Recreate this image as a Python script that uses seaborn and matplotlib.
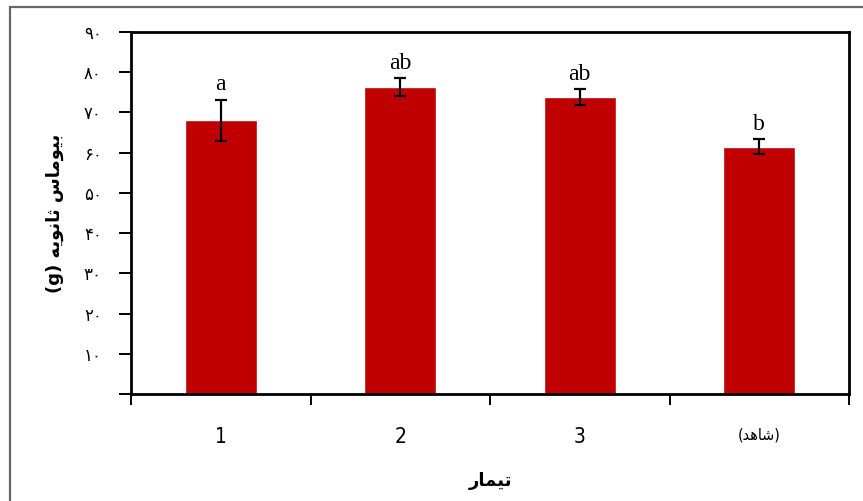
import re
import numpy as np
import pandas as pd
import matplotlib
matplotlib.use("Agg")
import matplotlib.pyplot as plt
from matplotlib.lines import Line2D
import seaborn as sns

# ---- data -------------------------------------------------------------
treatments = ["1", "2", "3", "(شاهد)"]
biomass = [68.0, 76.3, 73.8, 61.5]
errors = [5.2, 2.2, 2.0, 1.9]
letters = ["a", "ab", "ab", "b"]
y_ticks = [0, 10, 20, 30, 40, 50, 60, 70, 80, 90]
y_tick_labels = ["", "۱۰", "۲۰", "۳۰", "۴۰", "۵۰", "۶۰", "۷۰", "۸۰", "۹۰"]
y_label = "بیوماس ثانویه (g)"
x_label = "تیمار"

# ---- minimal Persian shaping (presentation forms + visual order) ------
FORMS = {
    "ا": ("\uFE8D", "\uFE8E"),
    "د": ("\uFEA9", "\uFEAA"),
    "ر": ("\uFEAD", "\uFEAE"),
    "و": ("\uFEED", "\uFEEE"),
    "ب": ("\uFE8F", "\uFE90", "\uFE91", "\uFE92"),
    "ت": ("\uFE95", "\uFE96", "\uFE97", "\uFE98"),
    "ث": ("\uFE99", "\uFE9A", "\uFE9B", "\uFE9C"),
    "س": ("\uFEB1", "\uFEB2", "\uFEB3", "\uFEB4"),
    "ش": ("\uFEB5", "\uFEB6", "\uFEB7", "\uFEB8"),
    "م": ("\uFEE1", "\uFEE2", "\uFEE3", "\uFEE4"),
    "ن": ("\uFEE5", "\uFEE6", "\uFEE7", "\uFEE8"),
    "ه": ("\uFEE9", "\uFEEA", "\uFEEB", "\uFEEC"),
    "ی": ("\uFBFC", "\uFBFD", "\uFBFE", "\uFBFF"),
}
MIRROR = {"(": ")", ")": "("}


def shape_word(word):
    out = []
    n = len(word)
    for i, ch in enumerate(word):
        forms = FORMS.get(ch)
        if forms is None:
            out.append(ch)
            continue
        prev = word[i - 1] if i > 0 else None
        nxt = word[i + 1] if i < n - 1 else None
        join_prev = prev in FORMS and len(FORMS[prev]) == 4
        join_next = nxt in FORMS and len(forms) == 4
        if join_prev and join_next:
            out.append(forms[3])
        elif join_prev:
            out.append(forms[1])
        elif join_next:
            out.append(forms[2])
        else:
            out.append(forms[0])
    return "".join(out)


def rtl(text):
    if not re.search(r"[\u0600-\u06FF]", text):
        return text
    tokens = re.findall(r"[\u0600-\u06FF]+|[A-Za-z0-9]+|.", text)
    visual = []
    for tok in reversed(tokens):
        if re.match(r"[\u0600-\u06FF]", tok):
            visual.append(shape_word(tok)[::-1])
        else:
            visual.append(MIRROR.get(tok, tok))
    return "".join(visual)


# ---- figure -------------------------------------------------------------
sns.set_theme(style="white")
plt.rcParams["font.family"] = ["DejaVu Sans"]
plt.rcParams["text.color"] = "black"
plt.rcParams["axes.labelcolor"] = "black"
plt.rcParams["xtick.color"] = "black"
plt.rcParams["ytick.color"] = "black"

fig = plt.figure(figsize=(8.63, 5.01), dpi=100)
ax = fig.add_axes([131 / 863, 1 - 394 / 501, (849 - 131) / 863, (394 - 32) / 501])

df = pd.DataFrame({"treatment": treatments, "biomass": biomass})
sns.barplot(data=df, x="treatment", y="biomass", color="#C00000",
            saturation=1, width=0.4, ax=ax, errorbar=None)
ax.errorbar(np.arange(len(biomass)), biomass, yerr=errors, fmt="none",
            ecolor="black", elinewidth=1.6, capsize=4.3, capthick=1.6, zorder=5)

for i, (m, e, lab) in enumerate(zip(biomass, errors, letters)):
    ax.text(i, m + e + 2.3, lab, ha="center", va="baseline",
            fontsize=17, family="Liberation Serif", color="black")

ax.set_xlim(-0.5, len(treatments) - 0.5)
ax.set_ylim(0, 90)
ax.set_yticks(y_ticks)
ax.set_yticklabels(y_tick_labels, fontsize=12)
ax.tick_params(axis="y", left=True, direction="out", length=9, width=1.4,
               pad=12, color="black", labelcolor="black")

ax.set_xticks(range(len(treatments)))
ax.set_xticklabels([rtl(t) for t in treatments])
for lbl in ax.get_xticklabels():
    lbl.set_fontsize(15 if lbl.get_text()[:1].isdigit() else 11.5)
    lbl.set_fontstretch("condensed")
    lbl.set_color("black")
ax.tick_params(axis="x", which="major", bottom=True, length=0, pad=24)
ax.set_xticks(np.arange(-0.5, len(treatments), 1.0), minor=True)
ax.tick_params(axis="x", which="minor", bottom=True, direction="out",
               length=8, width=1.4, color="black")

for side in ["left", "bottom", "top", "right"]:
    ax.spines[side].set_visible(True)
    ax.spines[side].set_color("black")
    ax.spines[side].set_linewidth(2.0)

ax.set_xlabel(rtl(x_label), fontsize=13, fontweight="bold", labelpad=18, color="black")
ax.set_ylabel(rtl(y_label), fontsize=13, fontweight="bold", labelpad=14, color="black")

# outer frame around the chart area
fig.add_artist(Line2D([10 / 863, 10 / 863], [0, 1 - 7 / 501], transform=fig.transFigure,
                      color="#666666", linewidth=1.6))
fig.add_artist(Line2D([10 / 863, 1], [1 - 7 / 501, 1 - 7 / 501], transform=fig.transFigure,
                      color="#666666", linewidth=1.6))

fig.savefig("out.png", dpi=100, facecolor="white")
